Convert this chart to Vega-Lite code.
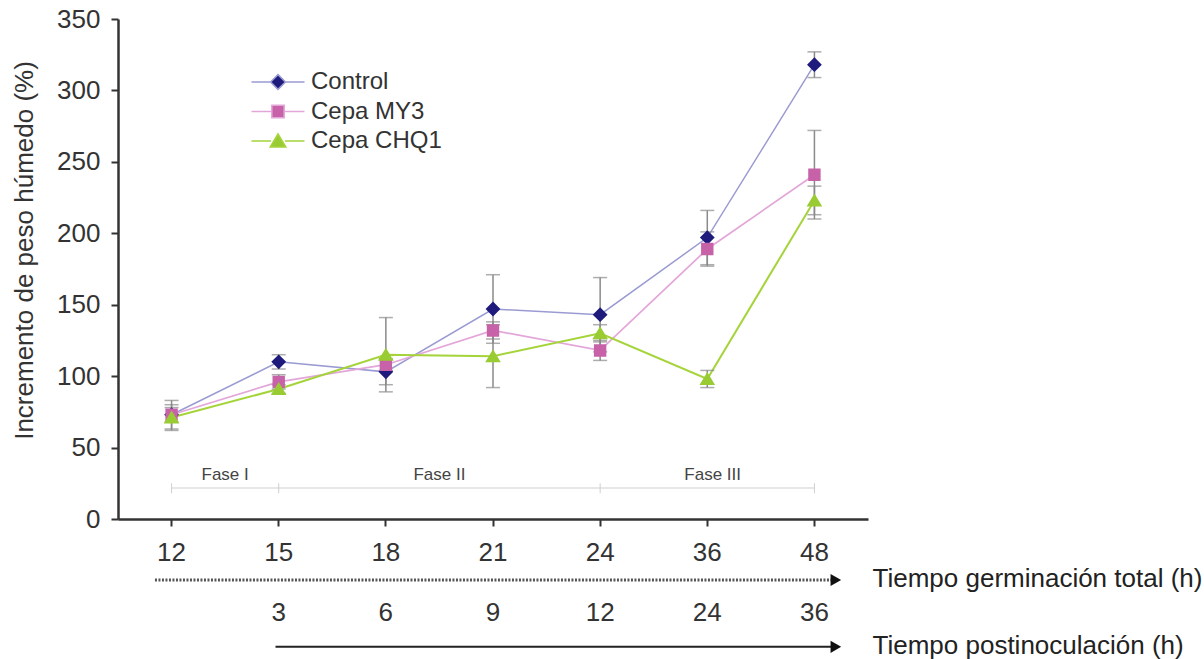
{
  "$schema": "https://vega.github.io/schema/vega-lite/v6.json",
  "width": 750,
  "height": 500,
  "autosize": {"type": "none"},
  "padding": {"left": 118, "top": 19, "right": 336, "bottom": 140},
  "background": "white",
  "config": {"font": "Liberation Sans", "view": {"stroke": null}},
  "datasets": {
    "main": [
      {"t": "12", "serie": "Control", "v": 73, "e": 10},
      {"t": "15", "serie": "Control", "v": 110, "e": 5},
      {"t": "18", "serie": "Control", "v": 103, "e": 9},
      {"t": "21", "serie": "Control", "v": 147, "e": 24},
      {"t": "24", "serie": "Control", "v": 143, "e": 26},
      {"t": "36", "serie": "Control", "v": 197, "e": 19},
      {"t": "48", "serie": "Control", "v": 318, "e": 9},
      {"t": "12", "serie": "Cepa MY3", "v": 73, "e": 5},
      {"t": "15", "serie": "Cepa MY3", "v": 96, "e": 5},
      {"t": "18", "serie": "Cepa MY3", "v": 108, "e": 4},
      {"t": "21", "serie": "Cepa MY3", "v": 132, "e": 6},
      {"t": "24", "serie": "Cepa MY3", "v": 118, "e": 7},
      {"t": "36", "serie": "Cepa MY3", "v": 189, "e": 12},
      {"t": "48", "serie": "Cepa MY3", "v": 241, "e": 31},
      {"t": "12", "serie": "Cepa CHQ1", "v": 71, "e": 9},
      {"t": "15", "serie": "Cepa CHQ1", "v": 91, "e": 3},
      {"t": "18", "serie": "Cepa CHQ1", "v": 115, "e": 26},
      {"t": "21", "serie": "Cepa CHQ1", "v": 114, "e": 22},
      {"t": "24", "serie": "Cepa CHQ1", "v": 130, "e": 6},
      {"t": "36", "serie": "Cepa CHQ1", "v": 98, "e": 6},
      {"t": "48", "serie": "Cepa CHQ1", "v": 223, "e": 10}
    ],
    "fases": [{"fase": "Fase I", "at": "12"}, {"fase": "Fase II", "at": "18"}],
    "limites": [{"t": "12"}, {"t": "15"}, {"t": "24"}, {"t": "48"}]
  },
  "layer": [
    {
      "data": {"name": "main"},
      "transform": [{"filter": "datum.serie == 'Control'"}],
      "mark": {"type": "line", "strokeWidth": 1.5, "color": "#9a9bd2"},
      "encoding": {
        "x": {
          "field": "t", "type": "ordinal",
          "scale": {"type": "band", "paddingInner": 0, "paddingOuter": 0, "domain": ["12", "15", "18", "21", "24", "36", "48"]},
          "axis": {
            "title": ["Tiempo germinación total (h)", "Tiempo postinoculación (h)"],
            "titleX": 754, "titleY": 46, "titleAlign": "left", "titleBaseline": "top", "titleAngle": 0,
            "titleFontSize": 26, "titleFontWeight": "normal", "titleColor": "#222", "titleLineHeight": 67,
            "labelAngle": 0, "labelFontSize": 26, "labelColor": "#333", "labelPadding": 13, "labelBaseline": "top",
            "labelLineHeight": 60, "labelFlush": false, "labelOverlap": false,
            "labelExpr": "[datum.label, datum.value == '12' ? '' : '' + (toNumber(datum.value) - 12)]",
            "tickSize": 7, "tickColor": "#333", "tickWidth": 2, "domainColor": "#333", "domainWidth": 2.5
          }
        },
        "y": {
          "field": "v", "type": "quantitative", "title": "Incremento de peso húmedo (%)",
          "scale": {"domain": [0, 350], "nice": false},
          "axis": {
            "title": "Incremento de peso húmedo (%)", "values": [0, 50, 100, 150, 200, 250, 300, 350],
            "grid": false, "tickSize": 7, "tickColor": "#333", "tickWidth": 2, "domainColor": "#333", "domainWidth": 2.5,
            "labelFontSize": 26, "labelColor": "#333", "labelPadding": 11,
            "titleFontSize": 26, "titleFontWeight": "normal", "titleColor": "#333",
            "titleX": -94, "titleY": 231, "titleBaseline": "middle", "titleAngle": -90
          }
        }
      }
    },
    {
      "data": {"name": "main"},
      "transform": [{"filter": "datum.serie == 'Cepa MY3'"}],
      "mark": {"type": "line", "strokeWidth": 1.7, "color": "#e3a6d9"},
      "encoding": {
        "x": {"field": "t", "type": "ordinal"},
        "y": {"field": "v", "type": "quantitative", "title": "Incremento de peso húmedo (%)"}
      }
    },
    {
      "data": {"name": "main"},
      "transform": [{"filter": "datum.serie == 'Cepa CHQ1'"}],
      "mark": {"type": "line", "strokeWidth": 2, "color": "#a5d43a"},
      "encoding": {
        "x": {"field": "t", "type": "ordinal"},
        "y": {"field": "v", "type": "quantitative", "title": "Incremento de peso húmedo (%)"}
      }
    },
    {
      "data": {"name": "main"},
      "mark": {"type": "errorbar", "color": "#8a8a8a", "thickness": 1.5, "ticks": {"size": 14, "thickness": 1.5, "color": "#8a8a8a"}},
      "encoding": {
        "x": {"field": "t", "type": "ordinal"},
        "y": {"field": "v", "type": "quantitative", "title": "Incremento de peso húmedo (%)"},
        "yError": {"field": "e"}
      }
    },
    {
      "data": {"values": [{}]},
      "mark": {"type": "rule", "color": "#cfcfcf", "strokeWidth": 1},
      "encoding": {
        "x": {"datum": "12", "type": "ordinal", "bandPosition": 0.5},
        "x2": {"datum": "48", "bandPosition": 0.5},
        "y": {"datum": 21.7, "type": "quantitative"}
      }
    },
    {
      "data": {"name": "limites"},
      "mark": {"type": "rule", "color": "#cfcfcf", "strokeWidth": 1},
      "encoding": {
        "x": {"field": "t", "type": "ordinal", "bandPosition": 0.5},
        "y": {"datum": 18, "type": "quantitative"},
        "y2": {"datum": 25}
      }
    },
    {
      "data": {"name": "fases"},
      "mark": {"type": "text", "fontSize": 17, "color": "#444", "baseline": "middle"},
      "encoding": {
        "x": {"field": "at", "type": "ordinal", "bandPosition": 1},
        "y": {"datum": 30.5, "type": "quantitative"},
        "text": {"field": "fase"}
      }
    },
    {
      "data": {"values": [{"fase": "Fase III"}]},
      "mark": {"type": "text", "fontSize": 17, "color": "#444", "baseline": "middle"},
      "encoding": {
        "x": {"datum": "36", "type": "ordinal", "bandPosition": 0.55},
        "y": {"datum": 30.5, "type": "quantitative"},
        "text": {"field": "fase"}
      }
    },
    {
      "data": {"values": [{}]},
      "mark": {"type": "rule", "color": "#555", "strokeWidth": 3, "strokeDash": [2, 1.5]},
      "encoding": {
        "x": {"datum": "12", "type": "ordinal", "bandPosition": 0.345},
        "x2": {"datum": "48", "bandPosition": 0.68},
        "y": {"datum": -42.7, "type": "quantitative"}
      }
    },
    {
      "data": {"values": [{}]},
      "mark": {"type": "rule", "color": "#222", "strokeWidth": 2},
      "encoding": {
        "x": {"datum": "15", "type": "ordinal", "bandPosition": 0.47},
        "x2": {"datum": "48", "bandPosition": 0.68},
        "y": {"datum": -89.5, "type": "quantitative"}
      }
    },
    {
      "data": {"values": [{"y": -42.7}, {"y": -89.5}]},
      "mark": {"type": "point", "shape": "triangle-right", "filled": true, "color": "#111", "size": 150, "opacity": 1},
      "encoding": {
        "x": {"datum": "48", "type": "ordinal", "bandPosition": 0.7},
        "y": {"field": "y", "type": "quantitative"}
      }
    },
    {
      "data": {"name": "main"},
      "mark": {"type": "point", "filled": true, "size": 400, "opacity": 1},
      "encoding": {
        "x": {"field": "t", "type": "ordinal"},
        "y": {"field": "v", "type": "quantitative", "title": "Incremento de peso húmedo (%)"},
        "fill": {
          "field": "serie", "type": "nominal",
          "scale": {"domain": ["Control", "Cepa MY3", "Cepa CHQ1"], "range": ["#1e1b7c", "#c862a8", "#99cc33"]},
          "legend": {
            "title": null, "orient": "none", "legendX": 148, "legendY": 51, "padding": 0,
            "labelFontSize": 24, "labelColor": "#333", "labelOffset": 21, "rowPadding": 5.5,
            "symbolSize": 400, "symbolStrokeWidth": 1.5, "symbolOpacity": 1
          }
        },
        "stroke": {
          "field": "serie", "type": "nominal",
          "scale": {"domain": ["Control", "Cepa MY3", "Cepa CHQ1"], "range": ["#9a9bd2", "#e3a6d9", "#a5d43a"]}
        },
        "shape": {
          "field": "serie", "type": "nominal",
          "scale": {
            "domain": ["Control", "Cepa MY3", "Cepa CHQ1"],
            "range": [
              "M-2.65,0H-0.7M0.7,0H2.65M0,-0.74L0.74,0L0,0.74L-0.74,0Z",
              "M-2.65,0H-0.62M0.62,0H2.65M-0.62,-0.62H0.62V0.62H-0.62Z",
              "M-2.65,0H-0.7M0.7,0H2.65M0,-0.7L0.78,0.6H-0.78Z"
            ]
          }
        },
        "strokeWidth": {"value": 0}
      }
    }
  ]
}
